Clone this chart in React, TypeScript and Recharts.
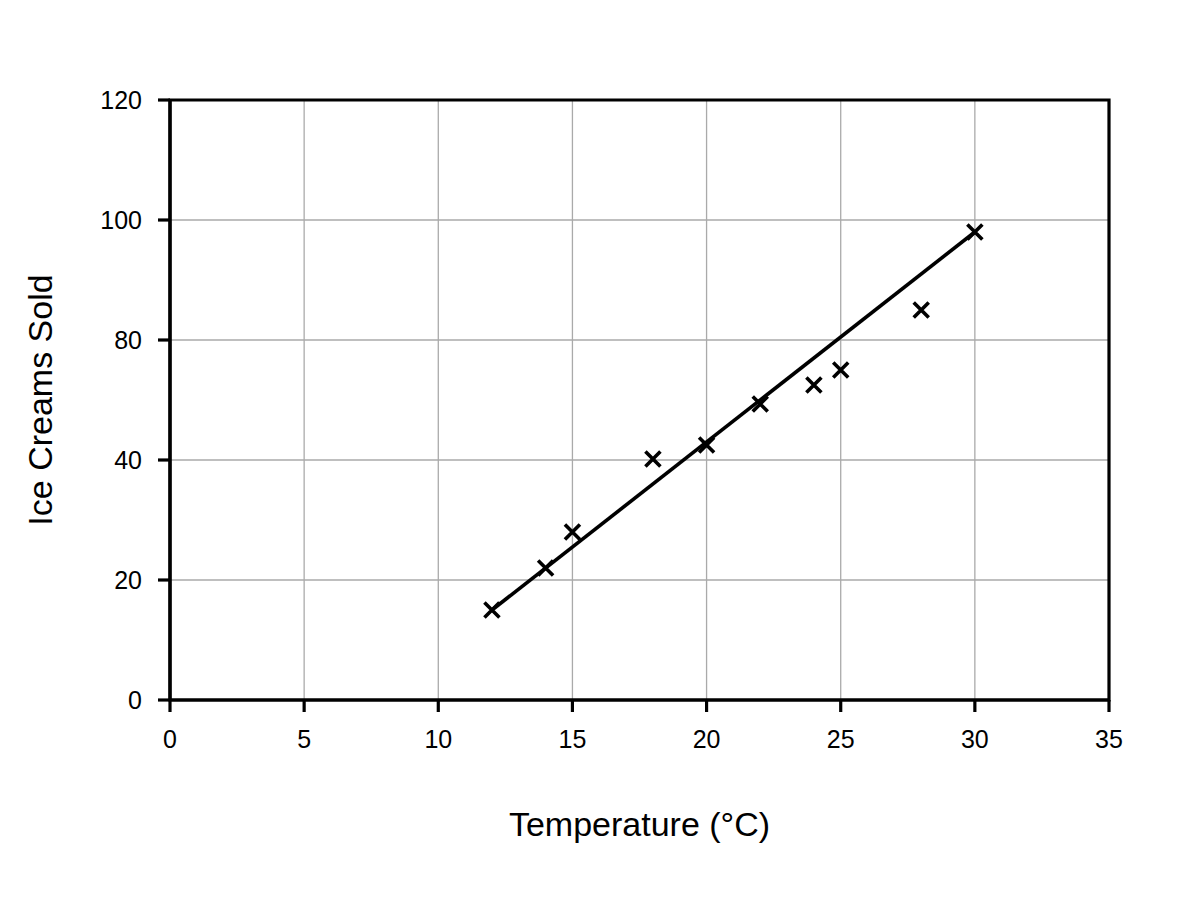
import { ScatterChart, Scatter, XAxis, YAxis, CartesianGrid, ReferenceArea } from "recharts"

// ─── Data ────────────────────────────────────────────────────────────────────
// temperatures (°C) of each observation
const temperatures = [12, 14, 15, 18, 20, 22, 24, 25, 28, 30]
// position of each mark on the (evenly spaced) vertical scale
const sold = [18, 26.4, 33.6, 48.2, 51, 59.2, 63, 66, 78, 93.6]

// fitted line end points
const fitX = [12, 30]
const fitY = [18, 93.6]

const xTicks = [0, 5, 10, 15, 20, 25, 30, 35]
// the y axis is drawn with evenly spaced ticks, but labelled as in the original
const yTicks = [0, 24, 48, 72, 96, 120]
const yTickLabels = ["0", "20", "40", "80", "100", "120"]

const points = temperatures.map((t, i) => ({ x: t, y: sold[i] }))
const fitLine = fitX.map((x, i) => ({ x, y: fitY[i] }))

const tickStyle = { fill: "#000", fontSize: 25 }
const axisStroke = { stroke: "#000", strokeWidth: 3.2 }

// ─── Shapes ──────────────────────────────────────────────────────────────────
function Cross({ cx, cy }: any) {
  const s = 7.5
  return (
    <path
      d={`M${cx - s},${cy - s}L${cx + s},${cy + s}M${cx - s},${cy + s}L${cx + s},${cy - s}`}
      stroke="#000"
      strokeWidth={3.6}
      fill="none"
    />
  )
}

function YLabel({ viewBox }: any) {
  const x = 52
  const y = viewBox.y + viewBox.height / 2
  return (
    <text x={x} y={y} transform={`rotate(-90, ${x}, ${y})`} textAnchor="middle" fontSize={34} fill="#000">
      Ice Creams Sold
    </text>
  )
}

// ─── Chart ───────────────────────────────────────────────────────────────────
export default function App() {
  return (
    <div
      style={{
        position: "absolute",
        left: 0,
        top: 0,
        width: 1200,
        height: 900,
        background: "#fff",
        fontFamily: '"Liberation Sans", Arial, sans-serif',
      }}
    >
      <ScatterChart width={1200} height={900} margin={{ top: 100, right: 91, bottom: 0, left: 0 }}>
        <CartesianGrid stroke="#aaa" strokeWidth={1.3} />

        <XAxis
          type="number"
          dataKey="x"
          domain={[0, 35]}
          ticks={xTicks}
          interval={0}
          height={200}
          tick={tickStyle}
          tickSize={12}
          tickMargin={18}
          tickLine={axisStroke}
          axisLine={axisStroke}
          label={{ value: "Temperature (°C)", position: "insideBottom", offset: 64, fontSize: 34, fill: "#000" }}
        />
        <YAxis
          type="number"
          dataKey="y"
          domain={[0, 120]}
          ticks={yTicks}
          interval={0}
          width={170}
          tick={tickStyle}
          tickSize={12}
          tickMargin={16}
          tickLine={axisStroke}
          axisLine={axisStroke}
          tickFormatter={(_v: number, i: number) => yTickLabels[i]}
          label={<YLabel />}
        />

        {/* frame round the plot area */}
        <ReferenceArea x1={0} x2={35} y1={0} y2={120} fill="none" fillOpacity={0} stroke="#000" strokeWidth={3.2} />

        <Scatter
          data={fitLine}
          stroke="#000"
          strokeWidth={3.6}
          line={{ stroke: "#000", strokeWidth: 3.6 }}
          shape={() => <g />}
          isAnimationActive={false}
        />
        <Scatter data={points} shape={<Cross />} isAnimationActive={false} />
      </ScatterChart>
    </div>
  )
}
